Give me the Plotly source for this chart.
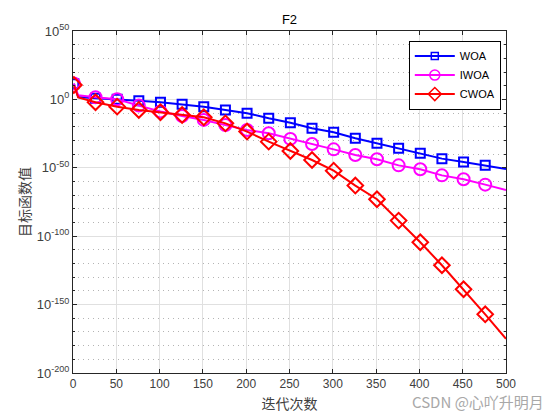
import plotly.graph_objects as go

# ---- data ----
iterations = [1, 6, 26, 51, 76, 101, 126, 151, 176, 201, 226, 251, 276, 301,
              326, 351, 376, 401, 426, 451, 476, 500]
marker_iters = [1, 26, 51, 76, 101, 126, 151, 176, 201, 226, 251, 276, 301,
                326, 351, 376, 401, 426, 451, 476]

woa = [3e11, 6e1, 6e0, 1.3e0, 1.2e-1, 8e-3, 2.5e-4, 5e-6, 2e-8, 8e-11,
       1.6e-14, 1e-17, 8e-22, 1e-24, 4e-29, 8e-33, 2e-36, 4e-40, 5e-44,
       2e-46, 6e-49, 1.3e-51]
iwoa = [4e11, 1e3, 4e1, 1.3e0, 3e-5, 1.3e-9, 8e-13, 1e-15, 1.6e-19, 4e-23,
        1.6e-25, 1.3e-29, 2.5e-33, 3e-37, 2.5e-41, 1.6e-44, 6e-49, 8e-52,
        3e-56, 4e-59, 5e-63, 6e-67]
cwoa = [3e10, 3e1, 8e-3, 5e-6, 2e-8, 4e-10, 4e-12, 8e-14, 3e-18, 3e-24,
        1.3e-31, 2e-38, 5e-45, 8e-53, 1e-63, 1e-73, 2.5e-89, 4e-105,
        6e-122, 1.6e-139, 8e-158, 1e-175]

series = [
    ("WOA", woa, "#0000FF", "square-open", 9),
    ("IWOA", iwoa, "#FF00FF", "circle-open", 12),
    ("CWOA", cwoa, "#FF0000", "diamond-open", 12),
]

y_tick_exps = [50, 0, -50, -100, -150, -200]
y_tick_text = ["10<sup>%d</sup>" % e for e in y_tick_exps]
x_ticks = [0, 50, 100, 150, 200, 250, 300, 350, 400, 450, 500]

fig = go.Figure()
for name, vals, color, sym, size in series:
    fig.add_trace(go.Scatter(x=iterations, y=vals, mode="lines",
                             line=dict(color=color, width=2),
                             showlegend=False, hoverinfo="skip"))
    mvals = [v for it, v in zip(iterations, vals) if it in marker_iters]
    mits = [it for it in iterations if it in marker_iters]
    fig.add_trace(go.Scatter(x=mits, y=mvals, mode="markers",
                             marker=dict(symbol=sym, size=size, color=color,
                                         line=dict(color=color, width=2)),
                             showlegend=False))
for name, vals, color, sym, size in series:
    fig.add_trace(go.Scatter(x=[None], y=[None], mode="lines+markers", name=name,
                             line=dict(color=color, width=2),
                             marker=dict(symbol=sym, size=size - 2, color=color,
                                         line=dict(color=color, width=1.5))))

axis_font = dict(family="Liberation Sans, Arial, sans-serif", size=13, color="#404040")

# the page body adds an 8px offset; margins compensate for it
fig.update_layout(
    width=560, height=420,
    margin=dict(l=65, r=62, t=23, b=55),
    paper_bgcolor="white", plot_bgcolor="white",
    title=dict(text="F2", x=0.5, xref="paper", xanchor="center",
               y=1 - 11 / 420, yref="container", yanchor="middle",
               font=dict(family="Liberation Sans, Arial, sans-serif", size=13, color="#000000")),
    font=axis_font,
    legend=dict(x=0.988, y=0.972, xanchor="right", yanchor="top",
                bgcolor="white", bordercolor="black", borderwidth=1,
                font=dict(family="Liberation Sans, Arial, sans-serif", size=11, color="#000000"),
                tracegroupgap=0, itemwidth=40),
    xaxis=dict(range=[0, 500], tickmode="array", tickvals=x_ticks,
               ticks="inside", ticklen=4, tickcolor="#262626",
               tickfont=dict(size=12),
               showline=True, linecolor="#262626", linewidth=1, mirror="ticks",
               showgrid=True, gridcolor="#e0e0e0", gridwidth=1, zeroline=False,
               title=dict(text="迭代次数", standoff=8,
                          font=dict(family="Noto Sans CJK SC", size=14, color="#404040"))),
    yaxis=dict(type="log", range=[-200, 50], tickmode="array",
               tickvals=[10.0 ** e for e in y_tick_exps], ticktext=y_tick_text,
               ticks="inside", ticklen=4, tickcolor="#262626",
               showline=True, linecolor="#262626", linewidth=1, mirror="ticks",
               showgrid=True, gridcolor="#e0e0e0", gridwidth=1, zeroline=False,
               minor=dict(tickmode="array",
                          tickvals=[10.0 ** e for e in range(-200, 51, 10)],
                          ticks="inside", ticklen=2, tickcolor="#262626",
                          showgrid=True, gridcolor="#b4b4b4", griddash="1px,4px", gridwidth=1),
               title=dict(text="目标函数值", standoff=2,
                          font=dict(family="Noto Sans CJK SC", size=14, color="#404040"))),
    annotations=[dict(text="CSDN @心吖升明月", xref="paper", yref="paper",
                      x=(546 - 73) / 433, y=(373 - 401) / 342,
                      xanchor="right", yanchor="middle", showarrow=False,
                      font=dict(family="Noto Sans CJK SC, Liberation Sans", size=15, color="#a8a8a8"))],
)

fig.write_html("out.html")
